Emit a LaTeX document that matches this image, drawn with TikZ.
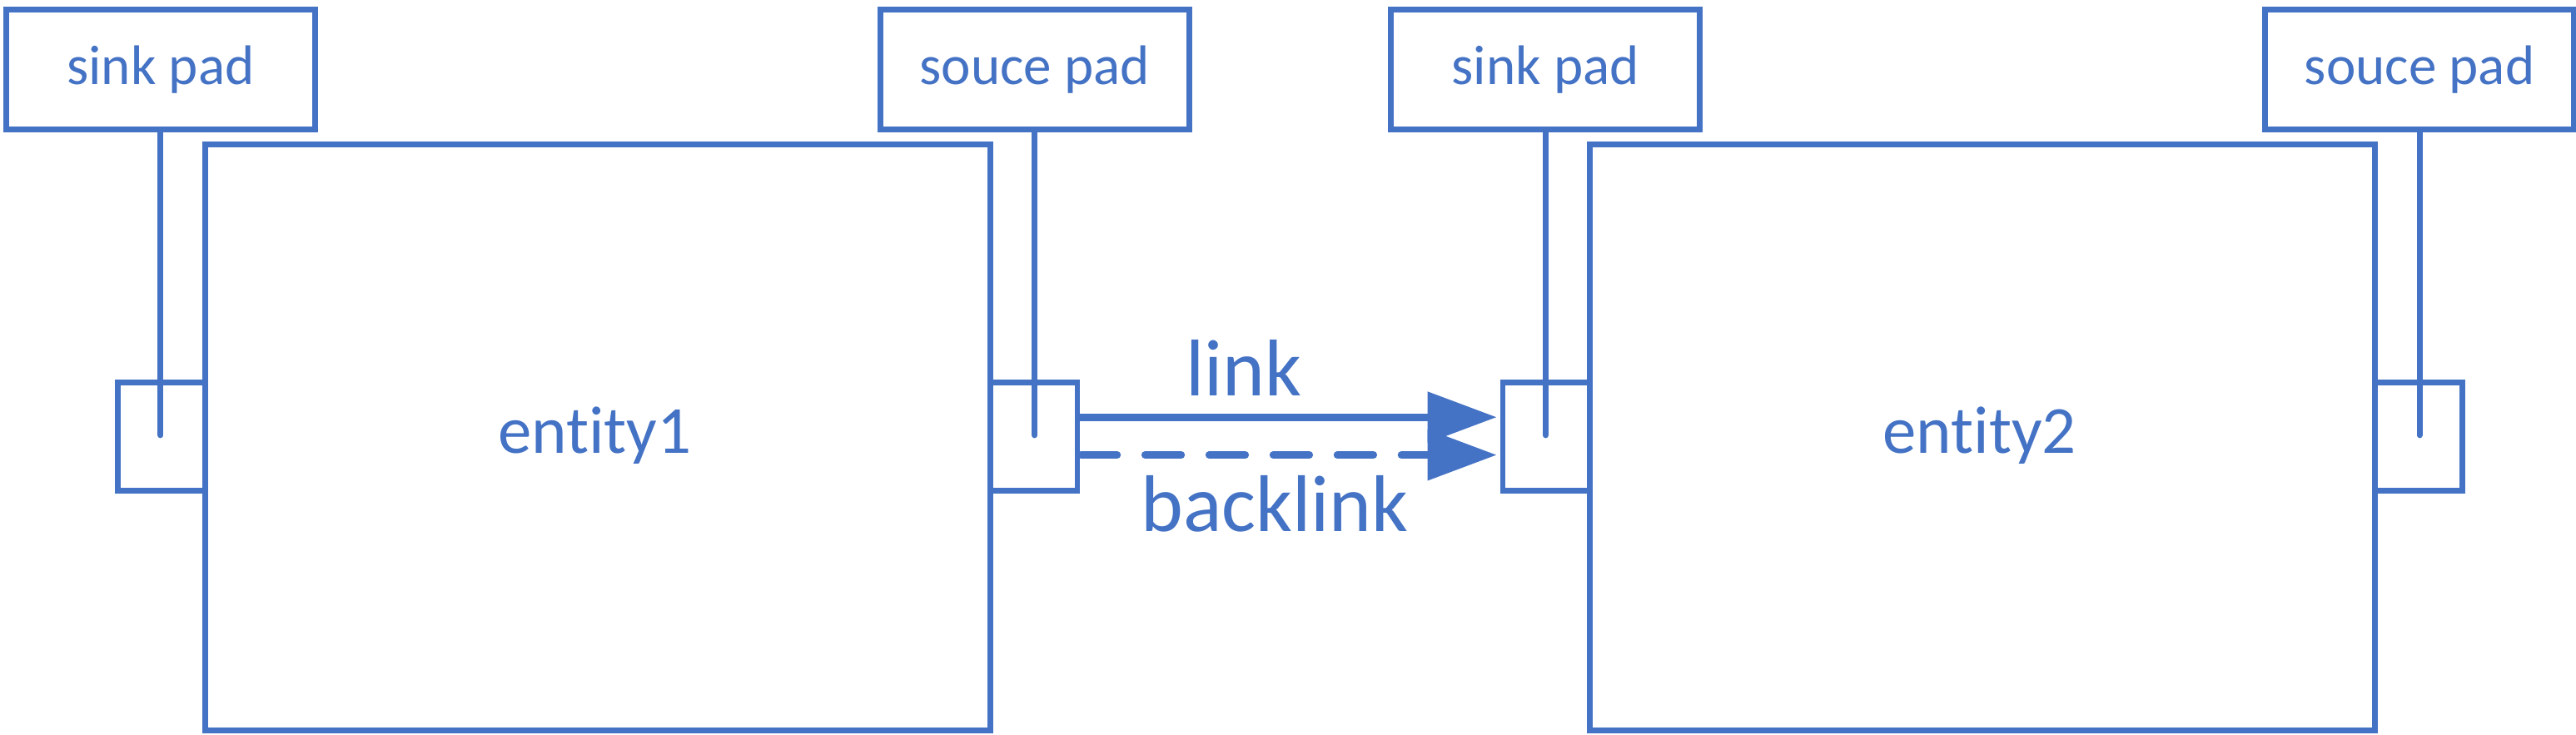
\documentclass[tikz,border=0pt]{standalone}
\usepackage{fontspec}
\setmainfont{Carlito}[Ligatures={NoCommon,NoRare,NoDiscretionary},Contextuals=NoAlternate]
\usetikzlibrary{arrows.meta}
\definecolor{ppt}{HTML}{4472C4}
\tikzset{x=1pt,y=-1pt,
  box/.style={draw=ppt,line width=3.5pt,inner sep=0pt,anchor=north west},
  padlbl/.style={box,minimum width=188pt,minimum height=73pt,text=ppt,font=\fontsize{34}{36}\selectfont},
  ent/.style={box,minimum width=478pt,minimum height=357pt},
  enttxt/.style={text=ppt,font=\fontsize{41}{43}\selectfont},
  port/.style={box,minimum width=53pt,minimum height=66pt},
  stem/.style={draw=ppt,line width=3.5pt,line cap=round},
  lnk/.style={draw=ppt,line width=4.5pt,-{Triangle[length=42pt,width=30pt]}},
  lbl/.style={text=ppt,font=\fontsize{49}{51}\selectfont}}
\begin{document}
\begin{tikzpicture}
\useasboundingbox (0,0) rectangle (1568,447);
% entities
\node[ent] (e1) at (123,86) {};
\node[ent] (e2) at (966,86) {};
\node[enttxt] (t1) at (362,265) {entity1};
\node[enttxt] (t2) at (1205,265) {entity2};
% pad labels
\node[padlbl] (sk1) at (2,4) {sink pad};
\node[padlbl] (sc1) at (534,4) {souce pad};
\node[padlbl] (sk2) at (845,4) {sink pad};
\node[padlbl] (sc2) at (1377,4) {souce pad};
% ports
\node[port] (p1) at (70,231) {};
\node[port] (p2) at (601,231) {};
\node[port] (p3) at (913,231) {};
\node[port] (p4) at (1444,231) {};
% stems
\coordinate (s1) at (97,265);
\draw[stem] (sk1.south) -- (sk1.south |- s1);
\draw[stem] (sc1.south) -- (sc1.south |- s1);
\draw[stem] (sk2.south) -- (sk2.south |- s1);
\draw[stem] (sc2.south) -- (sc2.south |- s1);
% links
\coordinate (la) at (655,254);
\coordinate (lb) at (911,254);
\coordinate (ba) at (658,277);
\coordinate (bb) at (911,277);
\draw[lnk] (la) -- (lb);
\draw[lnk,line cap=round,dash pattern=on 22pt off 17pt] (ba) -- (bb);
\node[lbl] (lk) at (757,224) {link};
\node[lbl] (bl) at (776,307) {backlink};
\end{tikzpicture}
\end{document}
